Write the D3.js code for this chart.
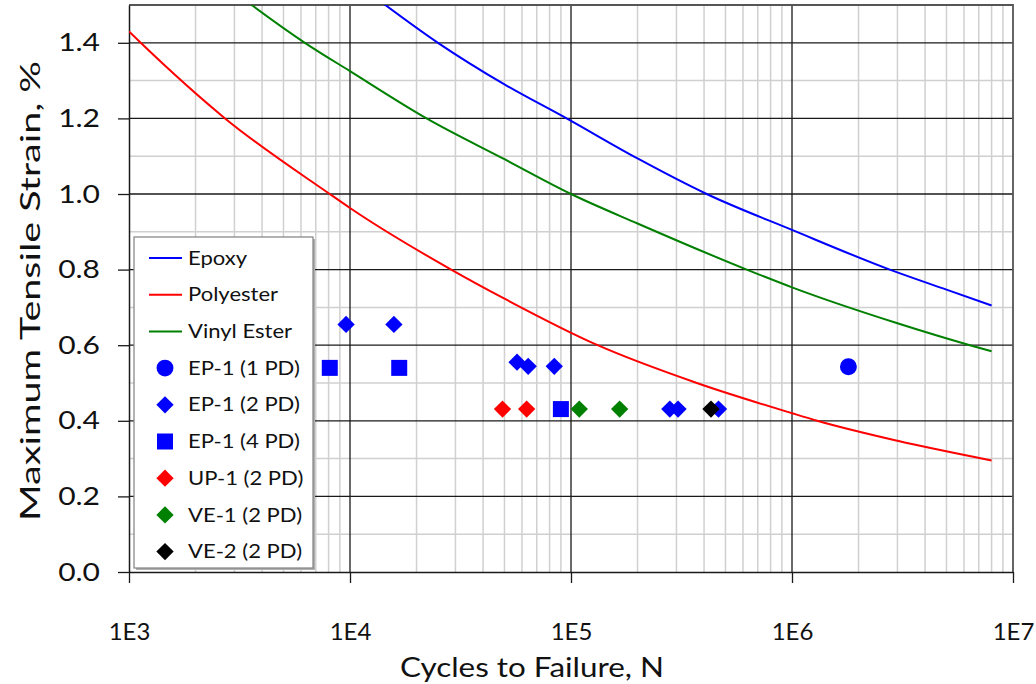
<!DOCTYPE html>
<html>
<head>
<meta charset="utf-8">
<script src="https://cdn.jsdelivr.net/npm/d3@7"></script>
<style>
  html, body { margin: 0; padding: 0; background: #fff; }
  svg { display: block; font-family: Lato, sans-serif; }
</style>
</head>
<body>
<svg id="chart" width="1036" height="684"></svg>
<script>
// Fatigue curves: cycles to failure vs. maximum tensile strain
const epoxyN      = [1.3e4, 2.5e4, 5e4, 9.55e4, 2e5, 4.11e5, 1e6, 2.77e6, 5e6, 8e6];
const epoxyStrain = [1.52, 1.40, 1.29, 1.20, 1.094, 1.00, 0.905, 0.80, 0.747, 0.705];

const polyN      = [1e3, 1.13e3, 2.72e3, 8.1e3, 1e4, 2.87e4, 5e4, 1.32e5, 3.71e5, 1e6, 1.3e6, 3e6, 8e6];
const polyStrain = [1.43, 1.40, 1.20, 1.00, 0.963, 0.80, 0.723, 0.60, 0.50, 0.42, 0.40, 0.347, 0.295];

const vinylN      = [3.3e3, 3.59e3, 6.25e3, 1e4, 2.22e4, 5e4, 1e5, 2e5, 6.24e5, 1e6, 3e6, 6.38e6, 8e6];
const vinylStrain = [1.516, 1.50, 1.40, 1.325, 1.20, 1.092, 1.00, 0.922, 0.80, 0.753, 0.658, 0.60, 0.584];

// Test results
const ep1pd1N = [1.8e6];
const ep1pd1S = [0.543];
const ep1pd2N = [9.6e3, 1.58e4, 5.7e4, 6.4e4, 8.4e4, 2.8e5, 3.05e5, 4.65e5];
const ep1pd2S = [0.655, 0.655, 0.555, 0.544, 0.544, 0.431, 0.431, 0.431];
const ep1pd4N = [8.1e3, 1.67e4, 9.0e4];
const ep1pd4S = [0.54, 0.54, 0.431];
const up1N = [4.9e4, 6.3e4];
const up1S = [0.431, 0.431];
const ve1N = [1.09e5, 1.66e5];
const ve1S = [0.431, 0.431];
const ve2N = [4.3e5];
const ve2S = [0.431];

const xTickValues = [1e3, 1e4, 1e5, 1e6, 1e7];
const xTickLabels = ["1E3", "1E4", "1E5", "1E6", "1E7"];
const yTickValues = [0, 0.2, 0.4, 0.6, 0.8, 1.0, 1.2, 1.4];

const lineSeries = [
  { name: "Epoxy", N: epoxyN, S: epoxyStrain, color: "#0000ff" },
  { name: "Polyester", N: polyN, S: polyStrain, color: "#ff0000" },
  { name: "Vinyl Ester", N: vinylN, S: vinylStrain, color: "#008000" }
];
const pointSeries = [
  { name: "EP-1 (1 PD)", N: ep1pd1N, S: ep1pd1S, color: "#0000ff", shape: "circle" },
  { name: "EP-1 (2 PD)", N: ep1pd2N, S: ep1pd2S, color: "#0000ff", shape: "diamond" },
  { name: "EP-1 (4 PD)", N: ep1pd4N, S: ep1pd4S, color: "#0000ff", shape: "square" },
  { name: "UP-1 (2 PD)", N: up1N, S: up1S, color: "#ff0000", shape: "diamond" },
  { name: "VE-1 (2 PD)", N: ve1N, S: ve1S, color: "#008000", shape: "diamond" },
  { name: "VE-2 (2 PD)", N: ve2N, S: ve2S, color: "#000000", shape: "diamond" }
];

const W = 1036, H = 684;
const margin = { left: 129, top: 5, right: 23, bottom: 112 };
const pw = W - margin.left - margin.right;
const ph = H - margin.top - margin.bottom;

// widen glyphs horizontally (wide text style of the chart)
function widen(sel, factor, target) {
  sel.each(function () {
    const w = this.getComputedTextLength();
    d3.select(this)
      .attr("textLength", target != null ? target : w * factor)
      .attr("lengthAdjust", "spacingAndGlyphs");
  });
}

const svg = d3.select("#chart");
const g = svg.append("g").attr("transform", `translate(${margin.left},${margin.top})`);

const x = d3.scaleLog().domain([1e3, 1e7]).range([0, pw]);
const y = d3.scaleLinear().domain([0, 1.5]).range([ph, 0]);

// minor grid
const minorX = [];
for (let d = 1e3; d < 1e7; d *= 10) for (let k = 2; k <= 9; k++) minorX.push(d * k);
const minorY = d3.range(1, 15, 2).map(v => v / 10);

g.append("g").selectAll("line").data(minorX).join("line")
  .attr("x1", d => x(d)).attr("x2", d => x(d)).attr("y1", 0).attr("y2", ph)
  .attr("stroke", "#d0d0d0").attr("stroke-width", 1.5);
g.append("g").selectAll("line").data(minorY).join("line")
  .attr("x1", 0).attr("x2", pw).attr("y1", d => y(d)).attr("y2", d => y(d))
  .attr("stroke", "#d0d0d0").attr("stroke-width", 1.5);

// major grid
g.append("g").selectAll("line").data(xTickValues.slice(1, -1)).join("line")
  .attr("x1", d => x(d)).attr("x2", d => x(d)).attr("y1", 0).attr("y2", ph)
  .attr("stroke", "#1a1a1a").attr("stroke-width", 1.3);
g.append("g").selectAll("line").data(yTickValues.slice(1)).join("line")
  .attr("x1", 0).attr("x2", pw).attr("y1", d => y(d)).attr("y2", d => y(d))
  .attr("stroke", "#1a1a1a").attr("stroke-width", 1.3);

// plot border (top / right)
g.append("path")
  .attr("d", `M0,0H${pw}V${ph}`)
  .attr("fill", "none").attr("stroke", "#555").attr("stroke-width", 1.8);

// axes
const yAxis = d3.axisLeft(y).tickValues(yTickValues).tickFormat(d3.format(".1f"))
  .tickSizeInner(11).tickSizeOuter(0).tickPadding(18);
const yG = g.append("g").call(yAxis);
yG.select(".domain").attr("stroke", "#1a1a1a").attr("stroke-width", 1.5);
yG.selectAll(".tick line").attr("stroke", "#1a1a1a").attr("stroke-width", 1.3);
yG.selectAll(".tick text").attr("font-size", 25).attr("fill", "#111")
  .attr("font-family", "Lato, sans-serif").call(widen, 1.2);

const xAxis = d3.axisBottom(x).tickValues(xTickValues)
  .tickFormat((d, i) => xTickLabels[i]).tickSizeInner(11).tickSizeOuter(0).tickPadding(40);
const xG = g.append("g").attr("transform", `translate(0,${ph})`).call(xAxis);
xG.select(".domain").attr("stroke", "#1a1a1a").attr("stroke-width", 1.5);
xG.selectAll(".tick line").attr("stroke", "#1a1a1a").attr("stroke-width", 1.3);
xG.selectAll(".tick text").attr("font-size", 24).attr("fill", "#111")
  .attr("font-family", "Lato, sans-serif");

// axis titles
svg.append("text")
  .attr("x", 532).attr("y", 677)
  .attr("text-anchor", "middle").attr("font-size", 27).attr("fill", "#111")
  .attr("font-family", "Lato, sans-serif")
  .text("Cycles to Failure, N")
  .call(widen, 1, 264);
svg.append("text")
  .attr("transform", `translate(40,291) rotate(-90)`)
  .attr("text-anchor", "middle").attr("font-size", 27).attr("fill", "#111")
  .attr("font-family", "Lato, sans-serif")
  .text("Maximum Tensile Strain, %")
  .call(widen, 1, 460);

// clip region for curves
svg.append("defs").append("clipPath").attr("id", "plotClip")
  .append("rect").attr("x", 0).attr("y", 0).attr("width", pw).attr("height", ph);

const line = d3.line()
  .x(d => x(d[0])).y(d => y(d[1]))
  .curve(d3.curveMonotoneX);

g.append("g").attr("clip-path", "url(#plotClip)")
  .selectAll("path").data(lineSeries).join("path")
  .attr("d", s => line(s.N.map((n, i) => [n, s.S[i]])))
  .attr("fill", "none").attr("stroke", s => s.color).attr("stroke-width", 2);

// marker shapes
const symbolFor = {
  circle: d3.symbol().type(d3.symbolCircle).size(225),
  square: d3.symbol().type(d3.symbolSquare).size(256),
  diamond: d3.symbol().type(d3.symbolSquare).size(150)
};
function markerTransform(shape, px, py) {
  return shape === "diamond" ? `translate(${px},${py}) rotate(45)` : `translate(${px},${py})`;
}

pointSeries.forEach(s => {
  g.append("g").selectAll("path").data(s.N.map((n, i) => [n, s.S[i]])).join("path")
    .attr("d", symbolFor[s.shape]())
    .attr("transform", d => markerTransform(s.shape, x(d[0]), y(d[1])))
    .attr("fill", s.color);
});

// legend
const lg = svg.append("g").attr("transform", "translate(134,237)");
lg.append("rect").attr("x", 2).attr("y", 2).attr("width", 179).attr("height", 331).attr("fill", "#b0b0b0");
lg.append("rect").attr("x", 0).attr("y", 0).attr("width", 179).attr("height", 331)
  .attr("fill", "#fff").attr("stroke", "#808080").attr("stroke-width", 1.2);

const rowY = i => 21 + i * 36.7;
lineSeries.forEach((s, i) => {
  lg.append("line").attr("x1", 15).attr("x2", 48).attr("y1", rowY(i)).attr("y2", rowY(i))
    .attr("stroke", s.color).attr("stroke-width", 2);
  lg.append("text").attr("x", 54).attr("y", rowY(i)).attr("dy", "0.35em")
    .attr("font-size", 19).attr("fill", "#111").attr("font-family", "Lato, sans-serif")
    .text(s.name).call(widen, 1.16);
});
pointSeries.forEach((s, j) => {
  const i = j + lineSeries.length;
  lg.append("path").attr("d", symbolFor[s.shape]())
    .attr("transform", markerTransform(s.shape, 31, rowY(i))).attr("fill", s.color);
  lg.append("text").attr("x", 54).attr("y", rowY(i)).attr("dy", "0.35em")
    .attr("font-size", 19).attr("fill", "#111").attr("font-family", "Lato, sans-serif")
    .text(s.name).call(widen, 1.16);
});
</script>
</body>
</html>
